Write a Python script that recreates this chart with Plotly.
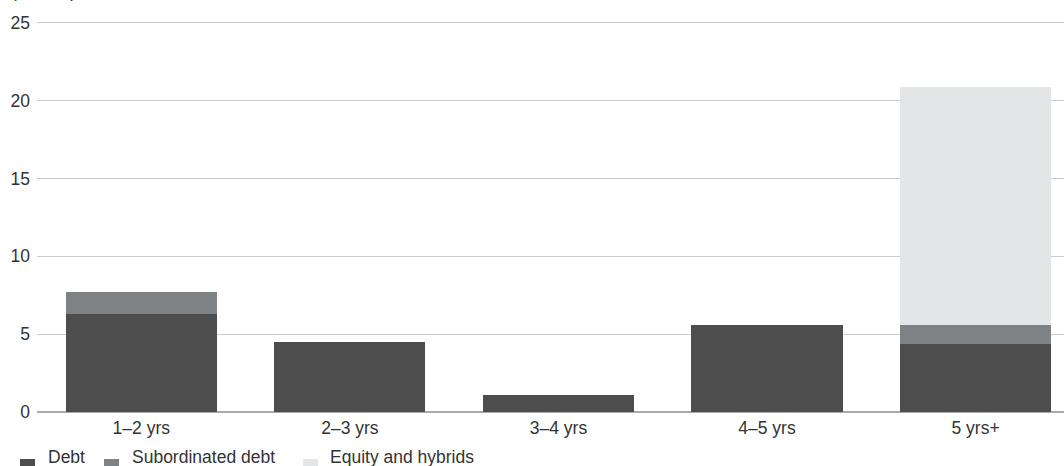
import plotly.graph_objects as go

# Maturity buckets and amounts (bn) by instrument type
buckets = ["1–2 yrs", "2–3 yrs", "3–4 yrs", "4–5 yrs", "5 yrs+"]
debt = [6.3, 4.5, 1.1, 5.6, 4.4]
subordinated_debt = [1.4, 0.0, 0.0, 0.0, 1.2]
equity_and_hybrids = [0.0, 0.0, 0.0, 0.0, 15.3]

y_ticks = [0, 5, 10, 15, 20, 25]
unit_label = "(US$bn)"

series = [
    ("Debt", debt, "#4d4d4d"),
    ("Subordinated debt", subordinated_debt, "#7f8284"),
    ("Equity and hybrids", equity_and_hybrids, "#e4e5e7"),
]

FONT = "Arial, 'Liberation Sans', Helvetica, sans-serif"
TEXT = "#333333"
SIZE = 17.5

W, H = 1064, 466
M_L, M_R, M_T, M_B = 37, 0, 15, 54
PLOT_W = W - M_L - M_R
PLOT_H = H - M_T - M_B


def px_to_paper_x(px):
    return (px - M_L) / PLOT_W


def px_to_paper_y(py):
    return (H - M_B - py) / PLOT_H


fig = go.Figure()
for name, values, colour in series:
    fig.add_trace(go.Bar(
        x=buckets,
        y=values,
        name=name,
        marker=dict(color=colour, line=dict(width=0)),
        width=0.724,
        showlegend=False,
    ))

# Legend row along the bottom edge: swatch + label per series
legend_swatch_left = [20, 104, 303]
legend_text_left = [47, 131, 329]
shapes = []
annotations = []
for (name, _, colour), sx, tx in zip(series, legend_swatch_left, legend_text_left):
    shapes.append(dict(
        type="rect", xref="paper", yref="paper",
        x0=px_to_paper_x(sx), x1=px_to_paper_x(sx + 15),
        y0=px_to_paper_y(459), y1=px_to_paper_y(474),
        fillcolor=colour, line=dict(width=0), layer="above",
    ))
    annotations.append(dict(
        text=name, xref="paper", yref="paper",
        x=px_to_paper_x(tx), y=px_to_paper_y(457),
        xanchor="left", yanchor="middle", showarrow=False,
        font=dict(size=SIZE, color=TEXT), borderpad=0,
    ))

annotations.append(dict(
    text=unit_label, xref="paper", yref="paper",
    x=px_to_paper_x(10), y=px_to_paper_y(2),
    xanchor="left", yanchor="bottom", showarrow=False,
    font=dict(size=SIZE, color=TEXT), borderpad=0,
))

fig.update_layout(
    barmode="stack",
    width=W,
    height=H,
    margin=dict(l=M_L, r=M_R, t=M_T, b=M_B, pad=0),
    paper_bgcolor="white",
    plot_bgcolor="white",
    font=dict(family=FONT, size=SIZE, color=TEXT),
    showlegend=False,
    xaxis=dict(
        range=[-0.5, 4.424],
        showgrid=False,
        showline=False,
        zeroline=False,
        ticks="",
        ticklabelstandoff=3,
        tickfont=dict(size=SIZE, color=TEXT),
        fixedrange=True,
    ),
    yaxis=dict(
        range=[0, 25.5],
        tickvals=y_ticks,
        showgrid=True,
        gridcolor="#cccccc",
        gridwidth=1,
        zeroline=True,
        zerolinecolor="#aaaaaa",
        zerolinewidth=2,
        showline=False,
        ticks="",
        ticklabelstandoff=6,
        tickfont=dict(size=SIZE, color=TEXT),
        fixedrange=True,
    ),
    shapes=shapes,
    annotations=annotations,
)

fig.write_html("out.html")
